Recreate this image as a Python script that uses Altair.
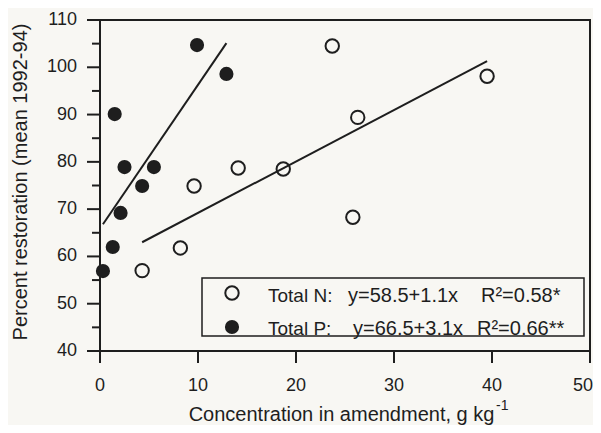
import altair as alt
import pandas as pd

# ---- data ----
n_x = [4.3, 8.2, 9.6, 14.1, 18.7, 23.7, 26.3, 25.8, 39.5]
n_y = [57.0, 61.8, 74.9, 78.7, 78.5, 104.5, 89.4, 68.3, 98.1]
p_x = [0.3, 1.3, 2.1, 1.5, 2.5, 4.3, 5.5, 9.9, 12.9]
p_y = [56.9, 62.0, 69.2, 90.1, 78.9, 74.9, 78.9, 104.7, 98.6]
n_line_x = [4.3, 39.5]
n_line_y = [63.0, 101.3]
p_line_x = [0.3, 12.9]
p_line_y = [66.8, 105.1]

x_ticks = [0, 10, 20, 30, 40, 50]
y_ticks = [40, 50, 60, 70, 80, 90, 100, 110]
y_minor_ticks = [45, 55, 65, 75, 85, 95, 105]

x_title = "Concentration in amendment, g kg"
x_title_sup = "-1"
y_title = "Percent restoration (mean 1992-94)"
legend_n = ["Total N:", "y=58.5+1.1x", "R\u00b2=0.58*"]
legend_p = ["Total P:", "y=66.5+3.1x", "R\u00b2=0.66**"]

# ---- style ----
FONT = "Liberation Sans"
INK = "#1e1e1e"
BG = "#f8f7f3"
W, H = 490, 331

xs = alt.Scale(domain=[0, 50], nice=False, zero=False)
ys = alt.Scale(domain=[40, 110], nice=False, zero=False)

n_df = pd.DataFrame({"x": n_x, "y": n_y})
p_df = pd.DataFrame({"x": p_x, "y": p_y})
nl_df = pd.DataFrame({"x": n_line_x, "y": n_line_y})
pl_df = pd.DataFrame({"x": p_line_x, "y": p_line_y})
xt_df = pd.DataFrame({"v": x_ticks})
yt_df = pd.DataFrame({"v": y_ticks})
ym_df = pd.DataFrame({"v": y_minor_ticks})

bx = alt.X("x:Q", scale=xs, axis=None)
by = alt.Y("y:Q", scale=ys, axis=None)
vx = alt.X("v:Q", scale=xs, axis=None)
vy = alt.Y("v:Q", scale=ys, axis=None)

lines_n = alt.Chart(nl_df).mark_line(color=INK, strokeWidth=2).encode(x=bx, y=by)
lines_p = alt.Chart(pl_df).mark_line(color=INK, strokeWidth=2).encode(x=bx, y=by)
pts_n = alt.Chart(n_df).mark_point(
    shape="circle", filled=False, color=INK, strokeWidth=2, size=180, opacity=1
).encode(x=bx, y=by)
pts_p = alt.Chart(p_df).mark_circle(color=INK, size=200, opacity=1).encode(x=bx, y=by)

# ticks and tick labels
x_tick_marks = alt.Chart(xt_df).mark_tick(
    orient="vertical", color=INK, size=12, thickness=2, opacity=1
).encode(x=vx, y=alt.value(H + 6))
x_tick_labels = alt.Chart(xt_df).transform_filter("datum.v < 50").mark_text(
    font=FONT, fontSize=18, color=INK, align="center", baseline="alphabetic"
).encode(x=vx, y=alt.value(H + 40), text=alt.Text("v:Q"))
x_tick_label_last = alt.Chart(xt_df).transform_filter("datum.v >= 50").mark_text(
    font=FONT, fontSize=18, color=INK, align="right", baseline="alphabetic", dx=3
).encode(x=vx, y=alt.value(H + 40), text=alt.Text("v:Q"))
y_tick_marks = alt.Chart(yt_df).mark_tick(
    orient="horizontal", color=INK, size=13, thickness=2, opacity=1
).encode(y=vy, x=alt.value(-6.5))
y_minor_marks = alt.Chart(ym_df).mark_tick(
    orient="horizontal", color=INK, size=8, thickness=2, opacity=1
).encode(y=vy, x=alt.value(-4))
y_tick_labels = alt.Chart(yt_df).mark_text(
    font=FONT, fontSize=18, color=INK, align="right", baseline="middle"
).encode(y=vy, x=alt.value(-23), text=alt.Text("v:Q"))

one = pd.DataFrame({"a": [0]})


def label(text, px, py, size=19, align="left", baseline="alphabetic", angle=0):
    return alt.Chart(one).mark_text(
        font=FONT, fontSize=size, color=INK, align=align, baseline=baseline,
        angle=angle
    ).encode(x=alt.value(px), y=alt.value(py), text=alt.value(text))


legend_box = alt.Chart(one).mark_rect(
    fill=BG, stroke=INK, strokeWidth=1.5
).encode(x=alt.value(102), x2=alt.value(484), y=alt.value(258), y2=alt.value(316))
leg_sym_n = alt.Chart(one).mark_point(
    shape="circle", filled=False, color=INK, strokeWidth=2, size=180, opacity=1
).encode(x=alt.value(132), y=alt.value(273))
leg_sym_p = alt.Chart(one).mark_circle(color=INK, size=200, opacity=1).encode(
    x=alt.value(132), y=alt.value(307))

texts = [
    label(legend_n[0], 168, 282, 19),
    label(legend_n[1], 248, 282, 20),
    label(legend_n[2], 381, 282, 20),
    label(legend_p[0], 168, 315, 19),
    label(legend_p[1], 253, 315, 20),
    label(legend_p[2], 377, 315, 20),
    label(x_title, 241.5, H + 70, 20, align="center"),
    label(x_title_sup, 396, H + 59, 14),
    label(y_title, -73, 162, 20, align="center", angle=270),
]

chart = alt.layer(
    lines_n, lines_p, pts_n, pts_p,
    x_tick_marks, x_tick_labels, x_tick_label_last,
    y_tick_marks, y_minor_marks, y_tick_labels,
    legend_box, leg_sym_n, leg_sym_p, *texts
).properties(
    width=W, height=H, background=BG,
    autosize=alt.AutoSizeParams(type="none"),
    padding={"left": 92, "top": 12, "right": 3, "bottom": 74},
).configure_view(stroke=INK, strokeWidth=2)

chart.save("out.html", embed_options={"renderer": "svg", "actions": False})
